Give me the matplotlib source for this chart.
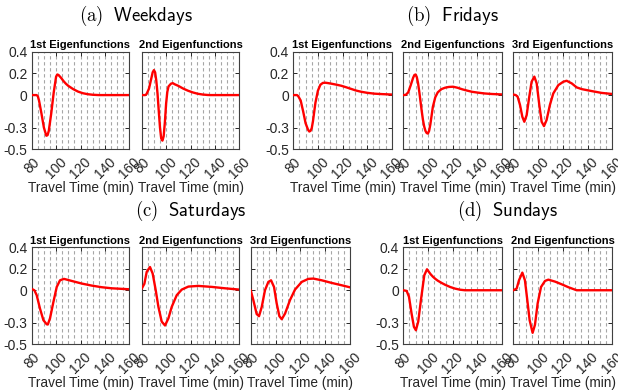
import matplotlib.pyplot as plt
from matplotlib.ticker import MultipleLocator

plt.rcParams['mathtext.fontset'] = 'cm'
plt.rcParams['font.family'] = ['Liberation Sans', 'DejaVu Sans']

# eigenfunctions (travel time in min, loading)
wk1_x = [80, 84, 85, 86, 88, 90, 92, 93, 94, 96, 98, 100, 101, 102, 104, 106, 108, 110, 114, 118, 122, 126, 130, 135, 160]
wk1_y = [0, 0, -0.01, -0.05, -0.17, -0.30, -0.375, -0.37, -0.33, -0.17, 0.02, 0.17, 0.19, 0.185, 0.16, 0.13, 0.105, 0.085, 0.055, 0.032, 0.017, 0.008, 0.003, 0, 0]

wk2_x = [80, 83, 84, 86, 88, 89, 90, 91, 92, 93, 94, 95, 96, 97, 98, 99, 100, 101, 102, 104, 105.5, 107, 110, 114, 118, 122, 126, 130, 134, 136, 160]
wk2_y = [0, 0, 0.01, 0.06, 0.16, 0.21, 0.23, 0.21, 0.13, 0.01, -0.15, -0.30, -0.40, -0.42, -0.38, -0.25, -0.08, 0.03, 0.08, 0.105, 0.11, 0.10, 0.085, 0.06, 0.04, 0.024, 0.012, 0.005, 0.001, 0, 0]

fr1_x = [80, 83, 84, 86, 88, 90, 92, 93, 94, 95, 96, 98, 100, 102, 104, 106, 108, 111, 115, 119, 123, 127, 131, 135, 140, 146, 152, 160]
fr1_y = [0, 0, -0.01, -0.05, -0.15, -0.26, -0.32, -0.336, -0.33, -0.305, -0.24, -0.07, 0.04, 0.095, 0.112, 0.114, 0.111, 0.105, 0.096, 0.086, 0.072, 0.057, 0.042, 0.031, 0.021, 0.013, 0.009, 0.005]

fr2_x = [80, 82, 84, 86, 88, 89, 90, 91, 92, 93, 94, 95, 96, 97, 98, 99, 100, 101, 102, 103, 104, 106, 108, 111, 114, 117, 120.5, 124, 128, 132, 136, 141, 146, 152, 160]
fr2_y = [0, 0.002, 0.025, 0.09, 0.16, 0.185, 0.19, 0.165, 0.11, 0.03, -0.06, -0.15, -0.23, -0.29, -0.33, -0.35, -0.355, -0.33, -0.27, -0.19, -0.11, -0.02, 0.025, 0.055, 0.068, 0.075, 0.077, 0.068, 0.053, 0.041, 0.03, 0.022, 0.015, 0.01, 0.006]

fr3_x = [80, 82, 83.5, 85.4, 87.3, 88.9, 90.8, 92.7, 94.8, 97, 98.9, 101, 102.9, 104.8, 106.9, 109.6, 112.3, 116.4, 120.4, 123.1, 127.2, 131.2, 135.3, 143.3, 151.4, 160]
fr3_y = [0.005, 0.0, -0.015, -0.09, -0.2, -0.246, -0.185, -0.03, 0.123, 0.17, 0.108, -0.09, -0.246, -0.286, -0.23, -0.09, 0.015, 0.092, 0.123, 0.132, 0.108, 0.071, 0.055, 0.037, 0.02, 0.01]

sat1_x = [80, 82.2, 84.1, 86.8, 89.6, 92.3, 93.2, 95, 97.8, 100.5, 103.2, 106.5, 112.8, 121, 129.2, 137.4, 145.6, 160]
sat1_y = [0.012, 0, -0.046, -0.17, -0.277, -0.315, -0.317, -0.26, -0.108, 0.03, 0.092, 0.105, 0.086, 0.062, 0.043, 0.028, 0.018, 0.009]

sat2_x = [80, 82.2, 84.1, 86.8, 89, 91.5, 93.7, 96.4, 99.1, 101.9, 104.6, 108.7, 112.8, 118.3, 126.4, 137.4, 148.3, 160]
sat2_y = [0.015, 0.06, 0.17, 0.215, 0.154, 0, -0.154, -0.29, -0.326, -0.26, -0.154, -0.046, 0.006, 0.034, 0.04, 0.031, 0.018, 0.006]

sat3_x = [80, 82.1, 84.8, 86.7, 88.9, 91.5, 94.2, 96.4, 98.8, 100.9, 103.1, 105, 107.7, 111.7, 115.7, 121.1, 126.4, 130.5, 137.2, 145.2, 153.3, 160]
sat3_y = [0, -0.09, -0.22, -0.24, -0.154, 0, 0.077, 0.092, 0.03, -0.12, -0.24, -0.268, -0.215, -0.09, 0.006, 0.077, 0.105, 0.108, 0.092, 0.068, 0.046, 0.027]

sun1_x = [80, 82.7, 84.6, 86.7, 88.6, 90.2, 92.1, 94.3, 97, 99.2, 102, 104, 106, 108, 111, 114, 118, 122, 126, 130, 160]
sun1_y = [0, -0.006, -0.06, -0.215, -0.338, -0.37, -0.29, -0.09, 0.138, 0.194, 0.15, 0.125, 0.105, 0.088, 0.068, 0.05, 0.03, 0.015, 0.005, 0, 0]

sun2_x = [80, 82.7, 84.6, 87.3, 89.4, 91.3, 93.2, 95.6, 97.5, 99.7, 102.4, 105.6, 108.3, 113.7, 119.1, 124.5, 131.2, 160]
sun2_y = [0, 0.015, 0.092, 0.163, 0.092, -0.09, -0.277, -0.394, -0.32, -0.12, 0.03, 0.086, 0.098, 0.08, 0.055, 0.028, 0, 0]

group_titles = ['(a)', '(b)', '(c)', '(d)']
group_names = ['Weekdays', 'Fridays', 'Saturdays', 'Sundays']
panel_titles = ['1st Eigenfunctions', '2nd Eigenfunctions', '3rd Eigenfunctions']

ytick_vals = [-0.5, -0.3, 0, 0.2, 0.4]
ytick_text = ['-0.5', '-0.3', '0', '0.2', '0.4']
xtick_vals = [80, 100, 120, 140, 160]

W, H = 618, 392
fig = plt.figure(figsize=(W / 100, H / 100), dpi=100)

# pixel boxes of the panels (left, top, right, bottom)
row_top = [(51.7, 149.3), (247, 344.3)]
groups = [
    (row_top[0], [(31.7, 129.3), (141.7, 239.3)], [(wk1_x, wk1_y), (wk2_x, wk2_y)]),
    (row_top[0], [(293.3, 391.7), (403.3, 501.7), (513.3, 612.3)],
     [(fr1_x, fr1_y), (fr2_x, fr2_y), (fr3_x, fr3_y)]),
    (row_top[1], [(31.7, 129.3), (141.7, 239.3), (250.7, 350)],
     [(sat1_x, sat1_y), (sat2_x, sat2_y), (sat3_x, sat3_y)]),
    (row_top[1], [(403.3, 502), (513.3, 612.3)], [(sun1_x, sun1_y), (sun2_x, sun2_y)]),
]

for g, (rows, cols, curves) in enumerate(groups):
    top, bottom = rows
    for k, ((left, right), (x, y)) in enumerate(zip(cols, curves)):
        ax = fig.add_axes([left / W, 1 - bottom / H, (right - left) / W, (bottom - top) / H])
        ax.plot(x, y, color='#ff0000', lw=1.7, zorder=3)
        ax.set_xlim(80, 160)
        ax.set_ylim(-0.5, 0.4)
        ax.set_xticks(xtick_vals)
        ax.xaxis.set_minor_locator(MultipleLocator(5))
        ax.grid(axis='x', which='both', color='#a6a6a6', lw=0.8, ls=(0, (3, 2.4)))
        ax.set_axisbelow(True)
        ax.set_yticks(ytick_vals)
        if k == 0:
            ax.set_yticklabels(ytick_text)
        else:
            ax.set_yticklabels([])
        ax.set_xticklabels([str(v) for v in xtick_vals], rotation=45, ha='center')
        ax.tick_params(direction='in', top=True, right=True, length=3, width=0.7,
                       colors='#262626', labelsize=10)
        ax.tick_params(axis='x', pad=4)
        ax.tick_params(axis='y', pad=3)
        ax.tick_params(which='minor', length=0)
        for s in ax.spines.values():
            s.set_color('#404040')
            s.set_linewidth(0.8)
        ax.set_title(panel_titles[k], fontsize=8, fontweight='bold', pad=2.5)
        ax.set_xlabel('Travel Time (min)', fontsize=9.8, color='#262626', labelpad=0)
    cx = (cols[0][0] + cols[-1][1]) / 2
    fig.text(cx / W, 1 - (top - 36) / H,
             '$(\\mathrm{' + group_titles[g][1] + '})$  $\\mathsf{' + group_names[g] + '}$',
             ha='center', va='center', fontsize=13.5)

fig.savefig('out.png', dpi=100)
